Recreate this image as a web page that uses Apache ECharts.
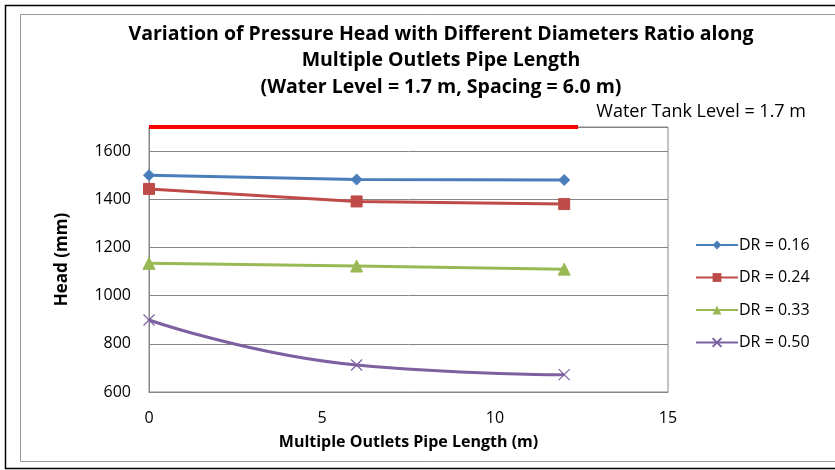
<!DOCTYPE html>
<html><head><meta charset="utf-8">
<script src="https://cdn.jsdelivr.net/npm/echarts@6/dist/echarts.min.js"></script>
<style>html,body{margin:0;padding:0;background:#fff}#c{width:835px;height:470px}</style>
</head><body><div id="c"></div>
<script>
const xPos = [0, 6, 12];
const dr016 = [1500, 1482, 1480];
const dr024 = [1443, 1391, 1380];
const dr033 = [1134, 1123, 1110];
const dr050 = [899, 712, 672];
const seriesNames = ['DR = 0.16', 'DR = 0.24', 'DR = 0.33', 'DR = 0.50'];
const tankLevel = 1700;
const tankX = [0, 12.4];
const yTicks = [600, 800, 1000, 1200, 1400, 1600];
const xTicks = [0, 5, 10, 15];
const titleLines = ['Variation of Pressure Head with Different Diameters Ratio along', 'Multiple Outlets Pipe Length', '(Water Level = 1.7 m, Spacing = 6.0 m)'];
const tankLabel = 'Water Tank Level = 1.7 m';

const FONT = "'Open Sans','Noto Sans',sans-serif";
const colors = ['#4A7EBB', '#BE4B48', '#98B954', '#7D60A0'];
const symbols = ['diamond', 'rect', 'triangle', 'path://M0,0L10,10M10,0L0,10'];
const sizes = [11, 11, 12, 11];
const vals = [dr016, dr024, dr033, dr050];

const chart = echarts.init(document.getElementById('c'), null, {renderer: 'canvas'});
const series = vals.map((v, i) => ({
  name: seriesNames[i], type: 'line',
  data: xPos.map((x, j) => [x, v[j]]),
  symbol: symbols[i], symbolSize: sizes[i], showSymbol: true,
  smooth: i === 3 ? 0.5 : false,
  lineStyle: {color: colors[i], width: 3},
  itemStyle: i === 3 ? {color: 'none', borderColor: colors[i], borderWidth: 1.2} : {color: colors[i], borderColor: colors[i]},
  z: 3
}));
series.push({
  name: 'tank', type: 'line', data: tankX.map(x => [x, tankLevel]),
  symbol: 'none', lineStyle: {color: '#FF0000', width: 4}, z: 4, silent: true
});

chart.setOption({
  animation: false,
  backgroundColor: '#fff',
  graphic: [
    {type: 'rect', shape: {x: 5.5, y: 5.5, width: 840, height: 463}, style: {fill: 'none', stroke: '#000', lineWidth: 1.5}, z: -1},
    {type: 'rect', shape: {x: 20.5, y: 14.5, width: 840, height: 447}, style: {fill: 'none', stroke: '#9a9a9a', lineWidth: 1}, z: -1}
  ],
  title: [
    {text: titleLines.join('\n'), left: 436, top: 16, textAlign: 'center',
     textStyle: {fontFamily: FONT, fontWeight: 'bold', fontSize: 19.5, lineHeight: 26.5, color: '#000'}},
    {text: tankLabel, right: 24, top: 98,
     textStyle: {fontFamily: FONT, fontWeight: 'normal', fontSize: 18, color: '#000'}}
  ],
  legend: {
    orient: 'vertical', left: 690, top: 232, itemGap: 16.5,
    itemWidth: 42, itemHeight: 11,
    data: seriesNames,
    textStyle: {fontFamily: FONT, fontSize: 16, color: '#000', padding: [0, 0, 0, -4]}
  },
  grid: {left: 149, right: 167, top: 127, bottom: 78, show: true, borderColor: '#868686', borderWidth: 1},
  xAxis: {
    type: 'value', min: 0, max: 15, interval: 5,
    name: 'Multiple Outlets Pipe Length (m)', nameLocation: 'middle', nameGap: 42,
    nameTextStyle: {fontFamily: FONT, fontWeight: 'bold', fontSize: 16, color: '#000'},
    axisLine: {lineStyle: {color: '#868686'}}, axisTick: {show: false},
    splitLine: {show: false},
    axisLabel: {fontFamily: FONT, fontSize: 16, color: '#000', margin: 18}
  },
  yAxis: {
    type: 'value', min: 600, max: 1700, interval: 200,
    name: 'Head (mm)', nameLocation: 'middle', nameGap: 78, nameRotate: 90,
    nameTextStyle: {fontFamily: FONT, fontWeight: 'bold', fontSize: 17, color: '#000'},
    axisLine: {show: true, lineStyle: {color: '#868686'}}, axisTick: {show: false},
    splitLine: {lineStyle: {color: '#868686', width: 1}},
    axisLabel: {fontFamily: FONT, fontSize: 16, color: '#000', margin: 18,
      formatter: v => yTicks.indexOf(v) >= 0 ? String(v) : ''}
  },
  series: series
});
</script></body></html>
